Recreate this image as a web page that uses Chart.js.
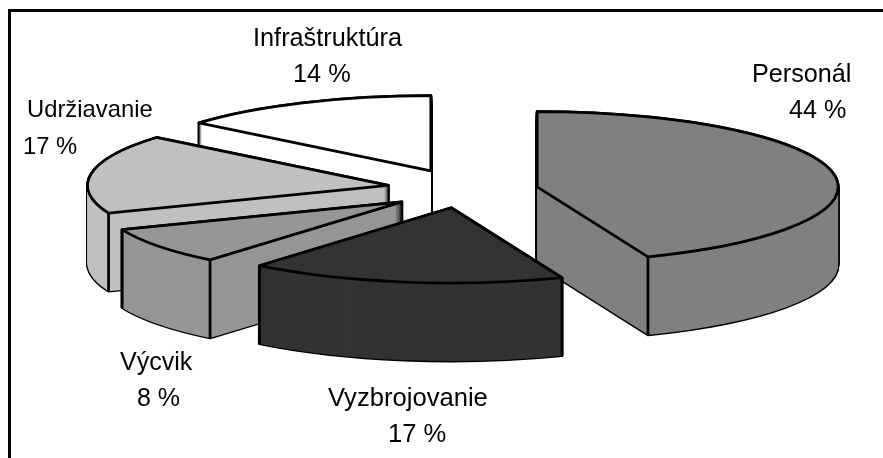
<!DOCTYPE html>
<html>
<head>
<meta charset="utf-8">
<style>html,body{margin:0;padding:0;background:#fff}#w{position:relative;width:883px;height:458px}</style>
<script src="https://cdn.jsdelivr.net/npm/chart.js@4/dist/chart.umd.min.js"></script>
</head>
<body>
<div id="w"><canvas id="c" width="883" height="458"></canvas></div>
<script>
// Data, clockwise from 12 o'clock
const categories = ["Personál", "Vyzbrojovanie", "Výcvik", "Udržiavanie", "Infraštruktúra"];
const shares = [44, 17, 8, 17, 14];
const sliceColors = ["#808080", "#333333", "#969696", "#c0c0c0", "#ffffff"];

// Look of the 3D pie
const paintOrder = [4, 0, 3, 2, 1];
const tilt = 0.25, depth = 78, explode = 75.5, lineW = 2.8, radius = 301;
const pieCenter = {x: 463, y: 188.5}, explodeTilt = 19.5 / 75.5;
const sliceNudgeY = [2, 0, 2, 0, 0];

// Label layout: [x, y of name, x, y of value, font size]
const labelLayout = [
  [752, 82, 789, 118, 25.2],
  [328, 406, 388, 442, 25.6],
  [120, 370, 137, 406, 25],
  [27, 117, 23, 154, 23.8],
  [253, 46, 293, 82, 25.3]
];

const pie3d = {
  id: 'pie3d',
  beforeDatasetsDraw(chart) {
    const ctx = chart.ctx, arcs = chart.getDatasetMeta(0).data;
    const geo = arcs.map((el, i) => {
      const mid = (el.startAngle + el.endAngle) / 2;
      return {
        a0: el.startAngle, a1: el.endAngle, r: el.outerRadius,
        x: pieCenter.x + Math.cos(mid) * explode,
        y: pieCenter.y + Math.sin(mid) * explode * explodeTilt + sliceNudgeY[i]
      };
    });
    const path = (g, dy) => {
      ctx.save();
      ctx.translate(g.x, g.y + dy);
      ctx.scale(1, tilt);
      ctx.beginPath();
      ctx.moveTo(0, 0);
      ctx.arc(0, 0, g.r, g.a0, g.a1);
      ctx.closePath();
      ctx.restore();
    };
    ctx.save();
    ctx.lineJoin = 'round';
    ctx.strokeStyle = '#000';
    ctx.lineWidth = lineW;
    paintOrder.forEach(i => {
      const g = geo[i];
      // silhouette of the extruded wedge
      for (let d = depth; d >= 0; d--) { path(g, d); ctx.stroke(); }
      ctx.fillStyle = sliceColors[i];
      for (let d = depth; d >= 0; d--) { path(g, d); ctx.fill(); }
      // vertical corner edges on the near half
      [g.a0, g.a1].forEach(a => {
        if (Math.sin(a) > 0.05) {
          const px = g.x + Math.cos(a) * g.r, py = g.y + Math.sin(a) * g.r * tilt;
          ctx.beginPath(); ctx.moveTo(px, py); ctx.lineTo(px, py + depth); ctx.stroke();
        }
      });
      // top face
      path(g, 0); ctx.fill(); ctx.stroke();
    });
    ctx.restore();
    return false;
  },
  afterDraw(chart) {
    const ctx = chart.ctx;
    ctx.save();
    // frame
    ctx.strokeStyle = '#000';
    ctx.lineWidth = 3;
    ctx.beginPath();
    ctx.moveTo(9.5, 458); ctx.lineTo(9.5, 10.5); ctx.lineTo(883, 10.5);
    ctx.stroke();
    // labels
    ctx.fillStyle = '#000';
    ctx.textAlign = 'left';
    ctx.textBaseline = 'alphabetic';
    categories.forEach((name, i) => {
      const l = labelLayout[i];
      ctx.font = l[4] + 'px "Liberation Sans", Arial, sans-serif';
      ctx.fillText(name, l[0], l[1]);
      ctx.fillText(shares[i] + ' %', l[2], l[3]);
    });
    ctx.restore();
  }
};

new Chart(document.getElementById('c'), {
  type: 'pie',
  data: {
    labels: categories,
    datasets: [{ data: shares, backgroundColor: sliceColors, borderColor: '#000', borderWidth: 0 }]
  },
  options: {
    responsive: false,
    animation: false,
    radius: radius,
    layout: { padding: 0 },
    plugins: { legend: { display: false }, tooltip: { enabled: false }, title: { display: false } }
  },
  plugins: [pie3d]
});
</script>
</body>
</html>
